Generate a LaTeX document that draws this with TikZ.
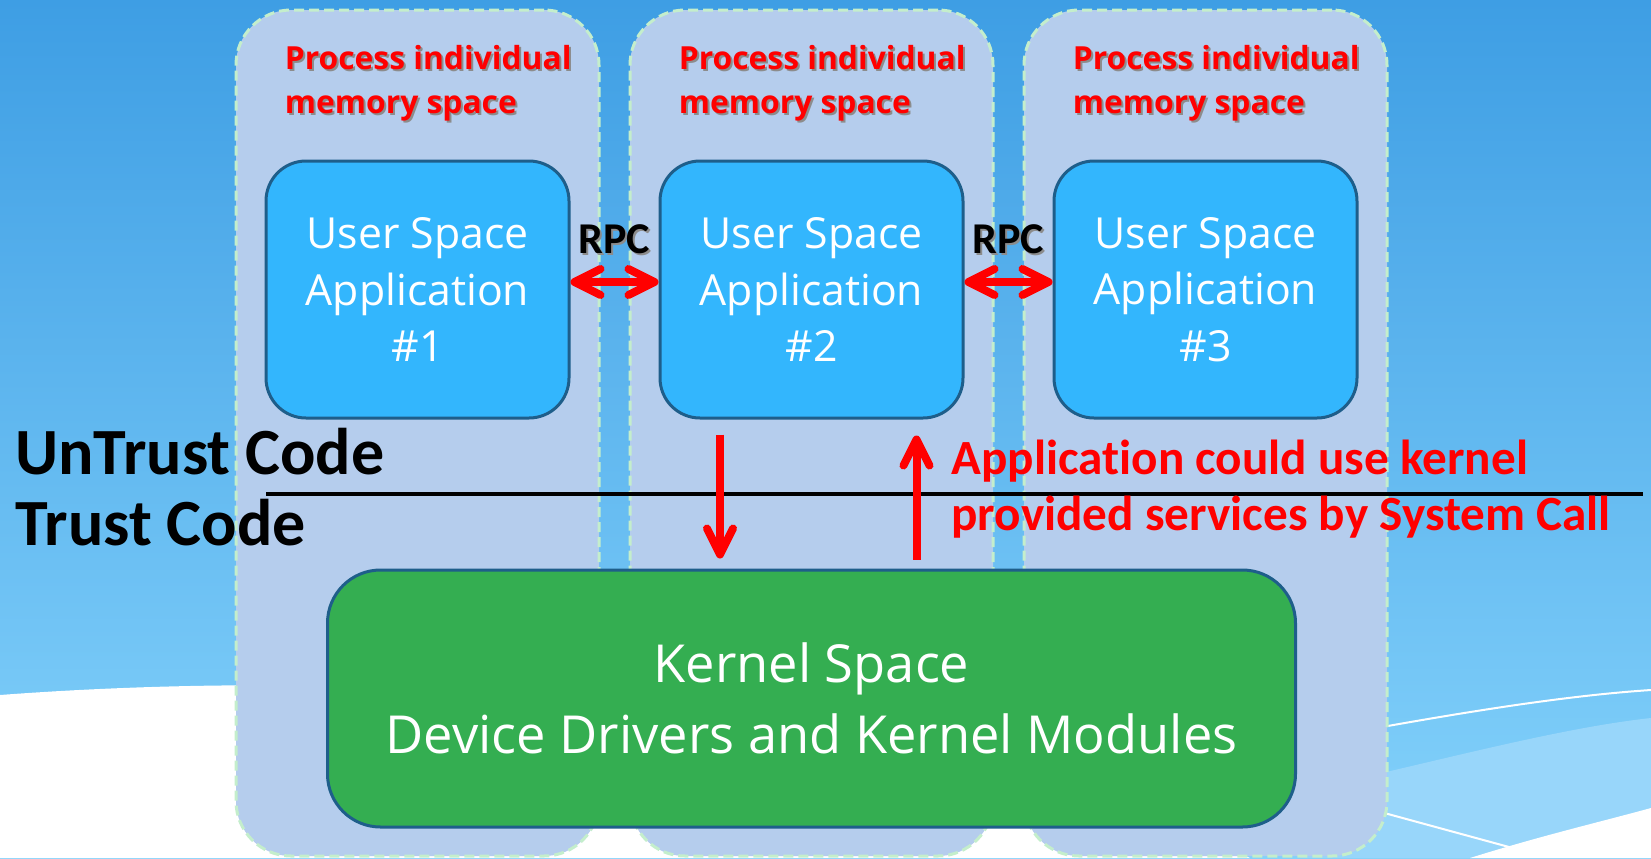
\documentclass[tikz,border=0pt]{standalone}
\usepackage{fontspec}
\setmainfont{Open Sans}
\newfontfamily\carlito[Ligatures=NoCommon]{Carlito}
\usetikzlibrary{positioning,arrows.meta}
\definecolor{bgtop}{RGB}{62,158,228}
\definecolor{bgbottom}{RGB}{132,210,251}
\definecolor{bandblue}{RGB}{152,214,250}
\definecolor{memfill}{RGB}{181,205,237}
\definecolor{memedge}{RGB}{196,238,204}
\definecolor{appfill}{RGB}{51,182,253}
\definecolor{boxedge}{RGB}{30,94,138}
\definecolor{kernfill}{RGB}{52,174,81}
\definecolor{alertred}{RGB}{255,0,0}
\newcommand{\shadowed}[1]{\leavevmode\rlap{\kern1pt\raisebox{-1pt}{\textcolor{black!45}{#1}}}#1}

\begin{document}
\begin{tikzpicture}[x=0.5pt, y=-0.5pt]
    \tikzstyle{memcol} = [rectangle, rounded corners=27.5pt, fill=memfill, draw=memedge, line width=1.5pt, dash pattern=on 5pt off 2.5pt, minimum width=181.5pt, minimum height=423pt]
    \tikzstyle{memlabel} = [text=alertred, align=left, inner sep=0pt, font=\fontsize{15.9pt}{22pt}\bfseries\selectfont]
    \tikzstyle{appbox} = [rectangle, rounded corners=20pt, fill=appfill, draw=boxedge, line width=1.5pt, text=white, align=center, minimum width=151.5pt, minimum height=128.5pt, font=\fontsize{21.4pt}{28.25pt}\selectfont]
    \tikzstyle{kernbox} = [rectangle, rounded corners=26.5pt, fill=kernfill, draw=boxedge, line width=1.5pt, text=white, align=center, minimum width=484pt, minimum height=128.5pt, font=\fontsize{26.2pt}{35.5pt}\selectfont]
    \tikzstyle{rpclabel} = [inner sep=0pt, font=\carlito\fontsize{22pt}{26pt}\bfseries\selectfont]
    \tikzstyle{zone} = [inner sep=0pt, anchor=base west, font=\carlito\fontsize{33pt}{36pt}\bfseries\selectfont]
    \tikzstyle{note} = [text=alertred, align=left, inner sep=0pt, anchor=base west, font=\carlito\fontsize{24.6pt}{28pt}\bfseries\selectfont]
    \tikzstyle{redarrow} = [draw=alertred, line width=4pt, >={Straight Barb[length=13pt, width=13pt, round]}]

    % background
    \useasboundingbox (0,0) rectangle (1651,858);
    \shade[top color=bgtop, bottom color=bgbottom] (0,0) rectangle (1651,858);
    \fill[bandblue] (1300,792) .. controls (1450,758) and (1560,728) .. (1651,718) -- (1651,858) -- (1300,858) -- cycle;
    \draw[white, line width=1pt] (1300,742) .. controls (1450,714) and (1560,696) .. (1651,690);
    \draw[white, line width=1pt] (1300,790) -- (1520,850);
    \fill[white] (0,695) .. controls (400,665) and (900,700) .. (1250,858) -- (0,858) -- cycle;
    \fill[white] (1470,858) .. controls (1540,836) and (1600,822) .. (1651,808) -- (1651,858) -- cycle;

    \node[memcol] (mem1) at (417.5,433) {};
    \node[memcol, right=14pt of mem1] (mem2) {};
    \node[memcol, right=14pt of mem2] (mem3) {};

    \node[memlabel, anchor=north west] (memtxt1) at ([xshift=25pt, yshift=-18pt]mem1.north west) {\shadowed{Process individual}\\\shadowed{memory space}};
    \node[memlabel, anchor=north west] (memtxt2) at ([xshift=25pt, yshift=-18pt]mem2.north west) {\shadowed{Process individual}\\\shadowed{memory space}};
    \node[memlabel, anchor=north west] (memtxt3) at ([xshift=25pt, yshift=-18pt]mem3.north west) {\shadowed{Process individual}\\\shadowed{memory space}};

    \node[appbox] (app1) at (417.5,289.5) {User Space\\Application\\\#1};
    \node[appbox, right=44pt of app1] (app2) {User Space\\Application\\\#2};
    \node[appbox, right=44pt of app2] (app3) {User Space\\Application\\\#3};

    \node[kernbox] (kernel) at (811.5,698.5) {Kernel Space\\Device Drivers and Kernel Modules};

    \coordinate (divL) at (266,494);
    \coordinate (divR) at (1643,494);
    \draw[line width=2pt] (divL) -- (divR);

    \node[zone] (untrust) at (15,474) {UnTrust Code};
    \node[zone] (trust) at (15,545) {Trust Code};

    \draw[redarrow, <->] ([yshift=3.75pt]app1.east) -- node[rpclabel, above=11pt] (rpc1) {\shadowed{RPC}} ([yshift=3.75pt]app2.west);
    \draw[redarrow, <->] ([yshift=3.75pt]app2.east) -- node[rpclabel, above=11pt] (rpc2) {\shadowed{RPC}} ([yshift=3.75pt]app3.west);
    \draw[redarrow, ->] ([xshift=-45.75pt, yshift=-7.5pt]app2.south) -- ([xshift=-45.75pt, yshift=5pt]kernel.north);
    \draw[redarrow, ->] ([xshift=52.5pt, yshift=4.5pt]kernel.north) -- ([xshift=52.5pt, yshift=-8pt]app2.south);

    \node[note] (syscall) at (951,530) {Application could use kernel\\provided services by System Call};
\end{tikzpicture}
\end{document}
